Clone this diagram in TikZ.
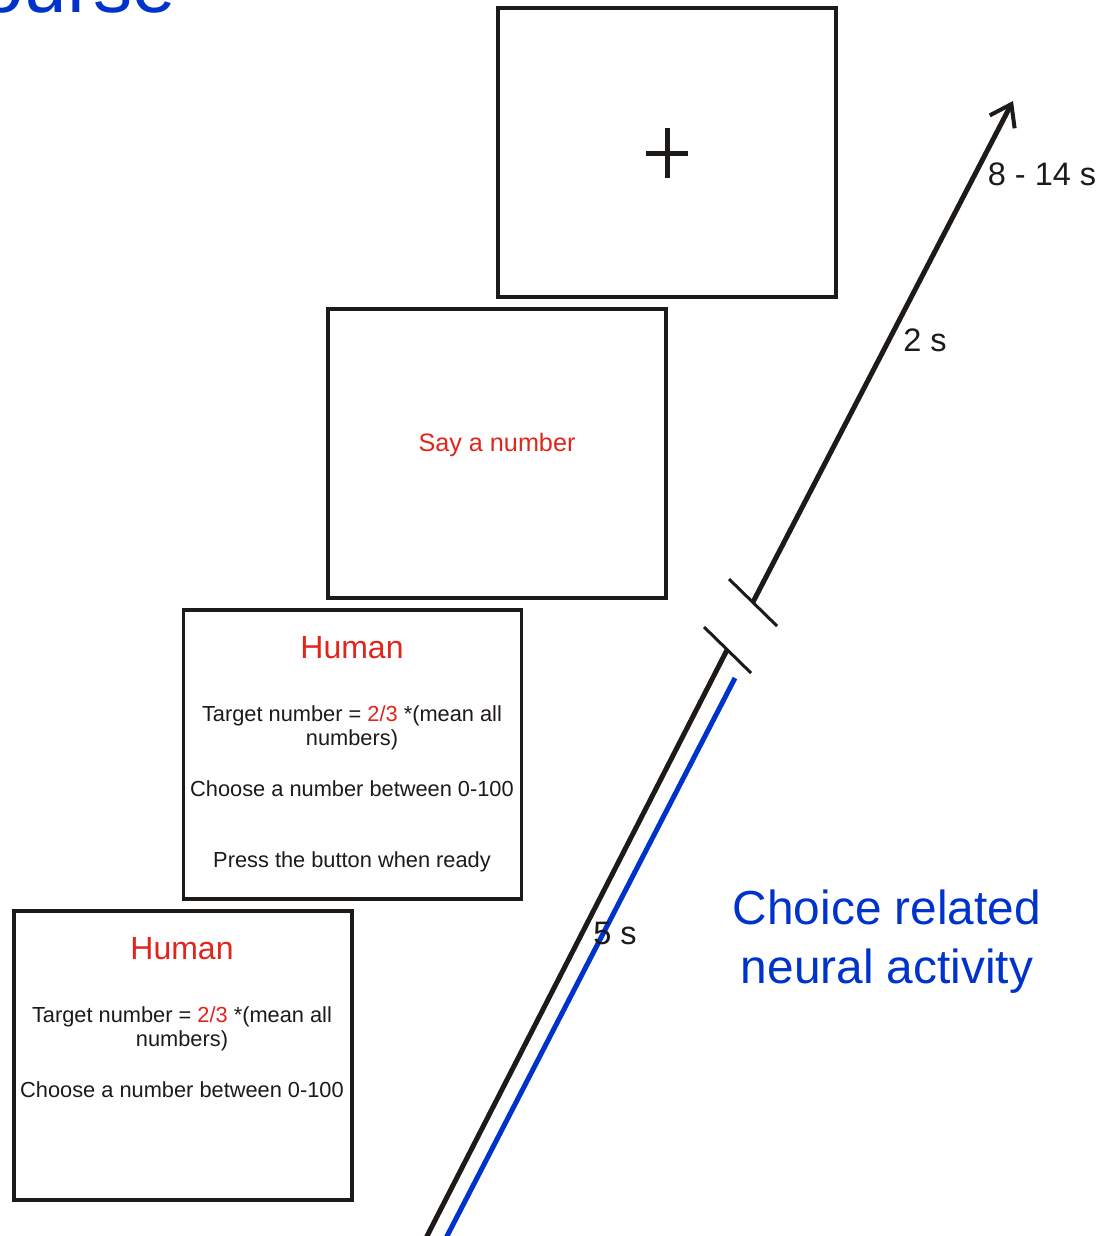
\documentclass[tikz,border=0pt]{standalone}
\usepackage{fontspec}
\setmainfont{Liberation Sans}
\usetikzlibrary{arrows.meta}
\definecolor{tred}{HTML}{E1251B}
\definecolor{tblue}{HTML}{0033CC}
\definecolor{ink}{HTML}{1E1A18}
\newcommand\fsz[2]{\fontsize{#1}{#2}\selectfont}
\begin{document}
\begin{tikzpicture}[x=1pt,y=-1pt,
  screen/.style={draw=ink, line width=3.5pt, minimum width=338pt, minimum height=289pt, inner sep=0pt},
  txt/.style={inner sep=0pt, align=center, text=ink},
  body/.style={txt, font=\fsz{21.8}{24}},
  head/.style={txt, text=tred, font=\fsz{32}{36}},
  tlabel/.style={txt, font=\fsz{32.5}{36}},
  timeline/.style={draw=ink, line width=5pt},
  tick/.style={draw=ink, line width=3pt}]
\useasboundingbox (0,0) rectangle (1103,1236);
\clip (0,0) rectangle (1103,1236);
\fill[white] (0,0) rectangle (1103,1236);

% title fragment
\node[anchor=base east, inner sep=0pt, text=tblue, font=\fsz{78}{90}] (title) at (176,13) {Time course};

% screens
\node[screen] (s1) at (667,152.5) {};
\node[screen] (s2) at (497,453.5) {};
\node[screen] (s3) at (352.5,754.5) {};
\node[screen] (s4) at (183,1055.5) {};

% fixation cross
\coordinate (plus) at (667,153);
\draw[ink, line width=5pt] ([xshift=-21pt]plus) -- ([xshift=21pt]plus)
  ([yshift=-25pt]plus) -- ([yshift=25pt]plus);

% screen 2
\node[txt, text=tred, font=\fsz{25.2}{30}] (say) at (497,445) {Say a number};

% screen 3
\node[head] (h3) at (352,648) {Human};
\node[body] (t3) at (352,728) {Target number = \textcolor{tred}{2/3} *(mean all\\numbers)};
\node[body] (c3) at (352,789) {Choose a number between 0-100};
\node[body] (p3) at (352,862) {Press the button when ready};

% screen 4
\node[head] (h4) at (182,949) {Human};
\node[body] (t4) at (182,1029) {Target number = \textcolor{tred}{2/3} *(mean all\\numbers)};
\node[body] (c4) at (182,1090) {Choose a number between 0-100};

% timeline
\coordinate (lowS) at (425,1240);
\coordinate (lowE) at (727,650);
\coordinate (blueS) at (445,1240);
\coordinate (blueE) at (735,678);
\coordinate (upS) at (753,602);
\coordinate (upE) at (1013,101);
\draw[timeline] (lowS) -- (lowE);
\draw[draw=tblue, line width=5pt] (blueS) -- (blueE);
\draw[tick] ([shift={(-23,-23)}]lowE) -- ([shift={(24,23)}]lowE);
\draw[tick] ([shift={(-24,-23)}]upS) -- ([shift={(24,24)}]upS);
\draw[timeline, -{Straight Barb[length=20pt, width=28pt, line width=4pt]}] (upS) -- (upE);

% time labels
\node[tlabel] (l814) at (1042,174) {8 - 14 s};
\node[tlabel] (l2) at (925,340) {2 s};
\node[tlabel] (l5) at (615,933) {5 s};

% annotation
\node[txt, text=tblue, font=\fsz{47.8}{59}] (choice) at (887,942) {Choice related\\neural activity};
\end{tikzpicture}
\end{document}
